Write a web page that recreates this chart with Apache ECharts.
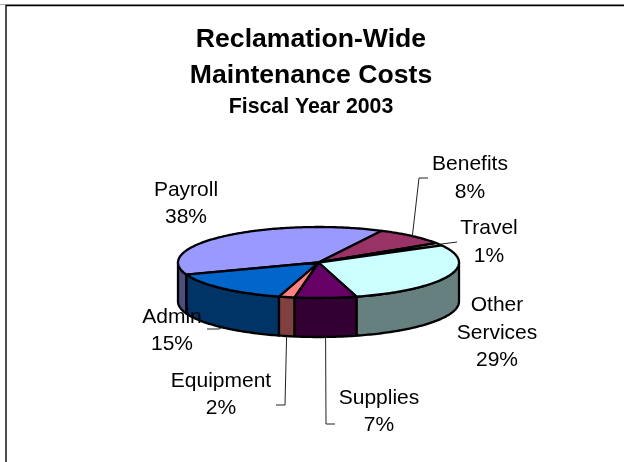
<!DOCTYPE html>
<html><head><meta charset="utf-8">
<style>html,body{margin:0;padding:0;background:#fff}#c{width:624px;height:462px}</style>
<script src="https://cdn.jsdelivr.net/npm/echarts@6/dist/echarts.min.js"></script>
</head><body><div id="c"></div>
<script>
const categories = ['Payroll','Benefits','Travel','Other Services','Supplies','Equipment','Admin'];
const shares = [38.0, 8.4, 1.2, 28.6, 7.1, 1.8, 14.9];
const topColors = ['#9999FF','#993366','#FFFFCC','#CCFFFF','#660066','#FF8080','#0066CC'];
const sideColors = ['#4D4D80','#4D1A33','#808066','#668080','#330033','#804040','#003366'];
const titleLines = ['Reclamation-Wide','Maintenance Costs','Fiscal Year 2003'];

const FONT = '"Liberation Sans", Arial, sans-serif';
const PIE = {cx:318.5, cy:262.5, rx:140.5, ry:35.5, depth:39, start:200};
const LAB = [
  {lines:['Payroll'], x:186, y:203.5},
  {lines:['Benefits'], x:470, y:178, via:[[419,178],[428,178]], rim:'top'},
  {lines:['Travel'], x:489, y:242, via:[[457,242]], rim:'top'},
  {lines:['Other','Services'], x:497, y:333},
  {lines:['Supplies'], x:379, y:411.5, via:[[326,424],[335,424]], rim:'side'},
  {lines:['Equipment'], x:221, y:394.5, via:[[285,405],[276,405]], rim:'side'},
  {lines:['Admin'], x:172, y:330.5, via:[[219,329],[207,329]], rim:'side'}
];

const total = shares.reduce((a,b)=>a+b,0);
const spans = []; let ang = PIE.start;
shares.forEach(v=>{ const a1 = ang - v/total*360; spans.push([ang,a1]); ang = a1; });
const pt = (deg,dy=0)=>{const t=deg*Math.PI/180; return [PIE.cx+PIE.rx*Math.cos(t), PIE.cy-PIE.ry*Math.sin(t)+dy];};
const arc = (a0,a1,dy=0)=>{const out=[];const n=Math.max(2,Math.ceil(Math.abs(a0-a1)));for(let i=0;i<=n;i++)out.push(pt(a0+(a1-a0)*i/n,dy));return out;};
const frontPart = (a0,a1)=>{
  for(const [lo,hi] of [[-180,0],[180,360],[-540,-360]]){
    const h=Math.min(a0,hi), l=Math.max(a1,lo);
    if(h>l) return [h,l];
  }
  return null;
};
const seriesData = shares.map((v,i)=>({name:categories[i],value:[v,i]}));
const edge = {stroke:'#000',lineWidth:2.3,lineJoin:'round'};

function renderSide(p,api){
  const i=api.value(1), part=frontPart(spans[i][0],spans[i][1]);
  if(!part) return null;
  const poly=arc(part[0],part[1]).concat(arc(part[1],part[0],PIE.depth));
  return {type:'polygon',shape:{points:poly},style:Object.assign({fill:sideColors[i]},edge)};
}
function renderTop(p,api){
  const i=api.value(1);
  const poly=[[PIE.cx,PIE.cy]].concat(arc(spans[i][0],spans[i][1]));
  return {type:'polygon',shape:{points:poly},style:Object.assign({fill:topColors[i]},edge)};
}
function renderLabel(p,api){
  const i=api.value(1), L=LAB[i], kids=[];
  if(L.via){
    const mid=(spans[i][0]+spans[i][1])/2;
    const a=pt(mid,L.rim==='side'?PIE.depth:0);
    kids.push({type:'polyline',shape:{points:[a].concat(L.via)},style:{stroke:'#222',lineWidth:1,fill:null}});
  }
  const txt=L.lines.concat([Math.round(api.value(0))+'%']).join('\n');
  kids.push({type:'text',x:L.x,y:L.y,style:{text:txt,x:0,y:0,align:'center',verticalAlign:'middle',fill:'#000',font:'21px '+FONT,lineHeight:27.5}});
  return {type:'group',children:kids};
}
const chart=echarts.init(document.getElementById('c'),null,{renderer:'canvas'});
chart.setOption({
  animation:false,
  backgroundColor:'#fff',
  title:titleLines.map((t,i)=>({text:t,left:311,textAlign:'center',padding:0,top:[26,62,97][i],
    textStyle:{fontFamily:FONT,fontWeight:'bold',fontSize:i<2?26.6:21.3,color:'#000'}})),
  graphic:[
    {type:'line',shape:{x1:0,y1:4.5,x2:624,y2:4.5},style:{stroke:'#aaa',lineWidth:1}},
    {type:'line',shape:{x1:6,y1:5.5,x2:624,y2:5.5},style:{stroke:'#000',lineWidth:1.4}},
    {type:'line',shape:{x1:6,y1:5,x2:6,y2:462},style:{stroke:'#000',lineWidth:1.4}}
  ],
  series:[
    {type:'custom',coordinateSystem:'none',silent:true,z:2,data:seriesData,renderItem:renderSide},
    {type:'custom',coordinateSystem:'none',silent:true,z:3,data:seriesData,renderItem:renderTop},
    {type:'custom',coordinateSystem:'none',silent:true,z:4,data:seriesData,renderItem:renderLabel}
  ]
});
</script></body></html>
